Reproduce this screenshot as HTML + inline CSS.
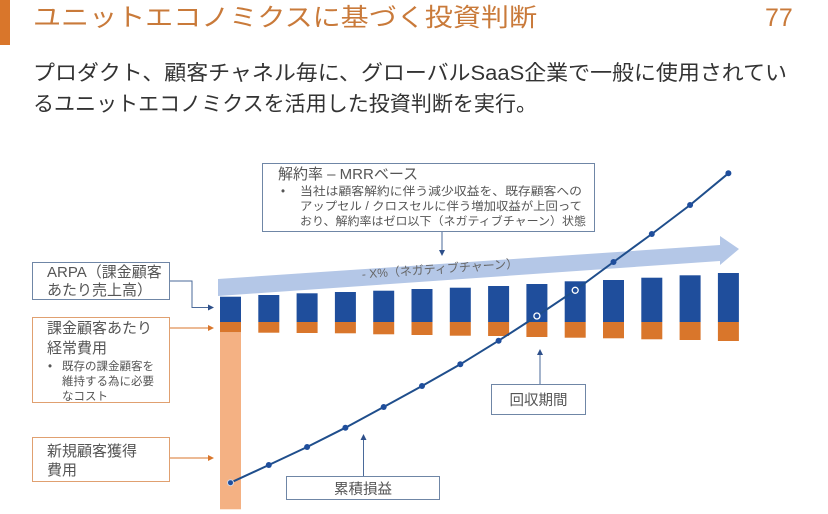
<!DOCTYPE html>
<html><head><meta charset="utf-8"><style>
html,body{margin:0;padding:0;background:#fff;}
svg{display:block;font-family:"Liberation Sans","Noto Sans CJK JP",sans-serif;}
</style></head><body>
<svg id="c" width="828" height="514" viewBox="0 0 828 514">
<rect x="0" y="0" width="10" height="45" fill="#d9762b"/>
<text x="33" y="26" font-size="25" fill="#c97a3a" textLength="504" lengthAdjust="spacingAndGlyphs">ユニットエコノミクスに基づく投資判断</text>
<text x="765" y="26" font-size="25" fill="#c97a3a">77</text>
<text x="33" y="80" font-size="21" fill="#333" textLength="754" lengthAdjust="spacingAndGlyphs">プロダクト、顧客チャネル毎に、グローバルSaaS企業で一般に使用されてい</text>
<text x="33" y="111" font-size="21" fill="#333" textLength="504" lengthAdjust="spacingAndGlyphs">るユニットエコノミクスを活用した投資判断を実行。</text>

<polygon points="218,279 720,245 720,236 739,249 720,265 720,261 218,296" fill="#b4c7e7"/>
<text x="440" y="273" font-size="12" fill="#666" text-anchor="middle" transform="rotate(-3.9 440 269)">- X%（ネガティブチャーン）</text>

<g id="bars"></g>
<g id="line"></g>

<rect x="262.5" y="163.5" width="332" height="68" fill="#fff" stroke="#6f86a6"/>
<text x="278" y="179" font-size="15" fill="#555">解約率 – MRRベース</text>
<g font-size="11.5" fill="#555">
<text x="281" y="195">•</text>
<text x="300" y="195" textLength="282" lengthAdjust="spacingAndGlyphs">当社は顧客解約に伴う減少収益を、既存顧客への</text>
<text x="300" y="210" textLength="282" lengthAdjust="spacingAndGlyphs">アップセル / クロスセルに伴う増加収益が上回って</text>
<text x="300" y="225" textLength="286" lengthAdjust="spacingAndGlyphs">おり、解約率はゼロ以下（ネガティブチャーン）状態</text>
</g>
<line x1="442" y1="232" x2="442" y2="252" stroke="#4a6a9a"/>
<polygon points="439,250 445,250 442,256" fill="#2d4f8a"/>

<rect x="32.5" y="262.5" width="137" height="37" fill="#fff" stroke="#6f86a6"/>
<text x="47" y="277" font-size="15" fill="#555">ARPA（課金顧客</text>
<text x="47" y="295" font-size="15" fill="#555">あたり売上高）</text>
<polyline points="170,281 192,281 192,307.5 209,307.5" fill="none" stroke="#4a6a9a"/>
<polygon points="208,304.5 214,307.5 208,310.5" fill="#2d4f8a"/>

<rect x="32.5" y="317.5" width="137" height="85" fill="#fff" stroke="#e0a070"/>
<text x="47" y="333" font-size="15" fill="#555">課金顧客あたり</text>
<text x="47" y="353" font-size="15" fill="#555">経常費用</text>
<g font-size="11.5" fill="#555">
<text x="48" y="370">•</text>
<text x="62" y="370">既存の課金顧客を</text>
<text x="62" y="385">維持する為に必要</text>
<text x="62" y="400">なコスト</text>
</g>
<line x1="170" y1="328" x2="209" y2="328" stroke="#d9762b"/>
<polygon points="208,325 214,328 208,331" fill="#d9762b"/>

<rect x="32.5" y="437.5" width="137" height="44" fill="#fff" stroke="#e0a070"/>
<text x="47" y="456" font-size="15" fill="#555">新規顧客獲得</text>
<text x="47" y="475" font-size="15" fill="#555">費用</text>
<line x1="170" y1="458" x2="209" y2="458" stroke="#d9762b"/>
<polygon points="208,455 214,458 208,461" fill="#d9762b"/>

<rect x="286.5" y="476.5" width="153" height="23" fill="#fff" stroke="#6f86a6"/>
<text x="363" y="494" font-size="14.5" fill="#555" text-anchor="middle">累積損益</text>
<line x1="363.5" y1="476" x2="363.5" y2="438" stroke="#4a6a9a"/>
<polygon points="360.5,440 366.5,440 363.5,434" fill="#2d4f8a"/>

<rect x="491.5" y="384.5" width="94" height="30" fill="#fff" stroke="#6f86a6"/>
<text x="538.5" y="405" font-size="14.5" fill="#555" text-anchor="middle">回収期間</text>
<line x1="540" y1="384" x2="540" y2="353" stroke="#4a6a9a"/>
<polygon points="537,355 543,355 540,349" fill="#2d4f8a"/>
</svg>
<script>
const periods = [1,2,3,4,5,6,7,8,9,10,11,12,13,14];
const arpa = [25.3,27,28.7,30,31.3,33,34.3,36,38,40.7,42,44.3,46.7,49];
const runningCost = [10.3,10.7,11,11.3,12.3,13,13.7,14,15,15.7,16.3,17.3,18,19];
const acquisitionCost = [177,0,0,0,0,0,0,0,0,0,0,0,0,0];
const cumulativePL = [-160.7,-143,-125,-105.7,-85,-64,-42.3,-18.7,6,31.7,60,88,117,148.7];
const paybackIdx = [8,9];

const NS = 'http://www.w3.org/2000/svg';
const x0 = 220, step = 38.3, bw = 21, base = 322;
function xScale(i){ return x0 + i*step; }
function yScale(v){ return base - v; }
const gb = document.getElementById('bars');
const gl = document.getElementById('line');
function mk(tag, attrs, parent){ const e = document.createElementNS(NS, tag); for (const k in attrs) e.setAttribute(k, attrs[k]); parent.appendChild(e); return e; }
periods.forEach((p,i)=>{
  const b = mk('rect',{x:xScale(i),y:yScale(arpa[i]),width:bw,height:arpa[i],fill:'#1f4e9c'},gb);
  
  
  const o = mk('rect',{x:xScale(i),y:base,width:bw,height:runningCost[i],fill:'#d9762b'},gb);
  
  
  if (acquisitionCost[i] > 0) {
    const a = mk('rect',{x:xScale(i),y:base+runningCost[i],width:bw,height:acquisitionCost[i],fill:'#f4b183'},gb);
    
    
  }
});
const pts = periods.map((p,i)=>[xScale(i)+bw/2, yScale(cumulativePL[i])]);
const pl = mk('polyline',{points:pts.map(q=>q.join(',')).join(' '),fill:'none',stroke:'#1f4e8c','stroke-width':2},gl);


pts.forEach((q,i)=>{
  let c;
  if (paybackIdx.includes(i)) {
    c = mk('circle',{cx:q[0],cy:q[1],r:3,fill:'#1f4e9c',stroke:'#fff','stroke-width':1.3},gl);
  } else {
    c = mk('circle',{cx:q[0],cy:q[1],r:3,fill:'#1f4e9c',stroke:i===0?'#cfd8e8':'none','stroke-width':1},gl);
  }
  
  
});
</script>
</body></html>
